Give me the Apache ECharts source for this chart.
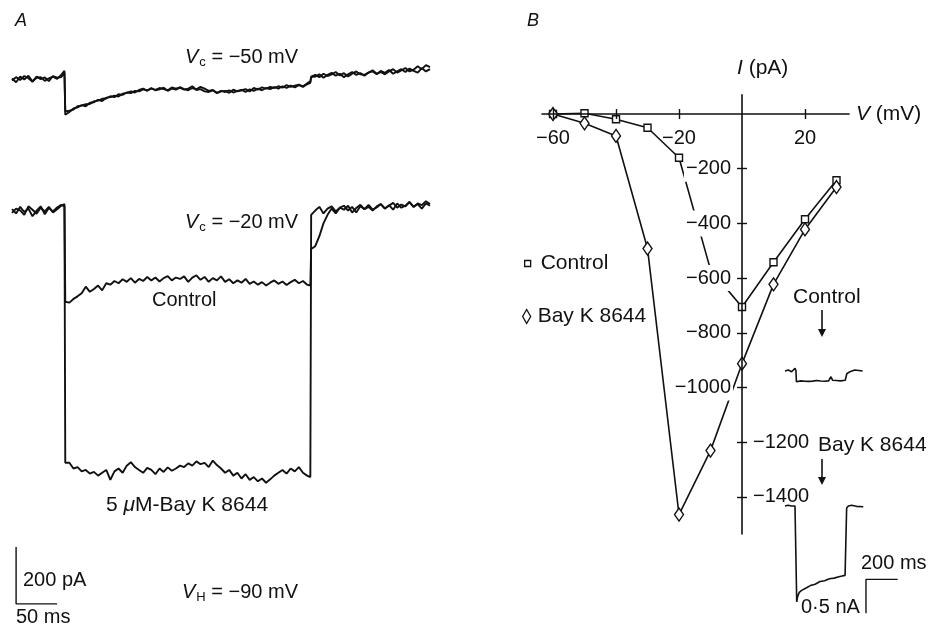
<!DOCTYPE html>
<html>
<head>
<meta charset="utf-8">
<script src="https://cdn.jsdelivr.net/npm/echarts@6/dist/echarts.min.js"></script>
<style>
html, body { margin: 0; background: #fff; }
#chart { width: 933px; height: 626px; }
</style>
</head>
<body>
<div id="chart"></div>
<script>
const FONT = '"Liberation Sans", Arial, Helvetica, sans-serif'
const INK = '#111'

// ---- panel A : current traces, sample times in ms, currents in pA
const tA = [0,5,10,15,20,25,30,35,40,45,50,55,60,64,65,
  70,75,80,85,90,95,100,105,110,115,120,125,130,135,140,145,150,155,160,165,170,175,180,185,190,195,
  200,205,210,215,220,225,230,235,240,245,250,255,260,265,270,275,280,285,290,295,300,305,310,315,320,
  325,330,335,340,345,350,355,360,364,365,
  370,375,380,385,390,395,400,405,410,415,420,425,430,435,440,445,450,455,460,465,470,475,480,485,490,495,500,505,510]

// Vc = -50 mV (two sweeps)
const i50a = [5,-8,12,2,15,-5,8,10,-3,6,12,4,18,32,-122,
  -112,-100,-96,-88,-92,-80,-78,-70,-74,-62,-60,-55,-58,-48,-45,-40,-44,-35,-30,-38,-28,-36,-33,-27,-38,-30,
  -34,-25,-32,-36,-28,-33,-24,-30,-38,-35,-45,-38,-42,-36,-44,-38,-35,-42,-33,-38,-30,-36,-28,-32,-25,
  -30,-22,-28,-20,-26,-18,-24,-15,-10,10,
  12,20,8,18,25,15,22,10,20,28,18,24,15,26,30,20,32,25,35,22,30,38,28,40,32,26,42,30,38]
const i50b = [-2,10,0,14,6,-6,12,3,9,-4,14,8,10,25,-110,
  -108,-104,-92,-90,-85,-84,-75,-72,-66,-65,-57,-60,-50,-52,-44,-46,-38,-40,-33,-36,-30,-35,-28,-32,-36,-26,
  -30,-28,-34,-30,-22,-35,-32,-40,-42,-36,-46,-40,-38,-45,-34,-40,-36,-32,-40,-28,-34,-26,-30,-24,-28,
  -22,-27,-18,-24,-20,-16,-22,-12,-5,12,
  18,10,22,14,20,28,16,24,12,22,30,20,18,26,34,22,28,20,30,38,26,34,42,30,36,48,38,52,45]

// Vc = -20 mV, control and 5 uM Bay K 8644
const i20ctrl = [-3,12,6,-10,20,8,-6,15,2,18,-2,10,22,28,-315,
  -318,-305,-296,-285,-262,-280,-270,-258,-275,-250,-255,-242,-250,-236,-245,-232,-248,-235,-242,-228,-240,-230,
  -244,-232,-225,-240,-230,-235,-226,-245,-230,-222,-238,-228,-245,-232,-240,-226,-245,-236,-250,-240,-248,-235,
  -252,-244,-255,-246,-258,-248,-240,-252,-244,-256,-246,-238,-250,-242,-255,-258,-130,
  -120,-85,-40,-10,12,-5,15,22,5,18,-2,20,10,25,8,16,28,12,22,32,15,26,20,35,18,30,24,38,28]
const i20bay = [10,-5,18,0,12,-15,5,20,-8,14,2,16,25,20,-880,
  -880,-900,-895,-910,-905,-918,-912,-925,-915,-905,-940,-910,-900,-915,-890,-878,-895,-905,-915,-898,-905,-920,
  -900,-912,-896,-908,-900,-890,-895,-882,-890,-875,-885,-880,-895,-872,-888,-900,-915,-905,-925,-915,-935,-920,
  -940,-930,-945,-935,-950,-938,-925,-915,-905,-918,-900,-910,-895,-915,-925,-930,-10,
  5,18,-5,12,20,2,15,8,22,-2,14,25,10,18,5,20,28,12,24,8,30,15,22,35,18,28,12,30,22]

// scale bar 50 ms / 200 pA
const barAT = [5, 5, 55]
const barAI = [-1175, -1375, -1375]

// ---- panel B : I-V relation
const vB = [-60, -50, -40, -30, -20, -10, 0, 10, 20, 30]
const iCtrl = [0, 3, -19, -50, -160, -569, -706, -542, -385, -242]
const iBay = [0, -34, -80, -492, -1465, -1231, -913, -623, -422, -267]
const xTicks = [-60, -40, -20, 20]
const xLabels = [-60, -20, 20]
const yTicks = [-200, -400, -600, -800, -1000, -1200, -1400]
const yLabelsLeft = [-200, -400, -600, -800, -1000]
const yLabelsRight = [-1200, -1400]

// inset traces (ms, nA)
const tInCtrl = [0, 21, 42, 63, 69, 72, 100, 125, 150, 175, 200, 225, 250, 275, 290, 300, 325, 350, 380, 390, 410, 440, 490]
const iInCtrl = [0.01, 0.025, 0, 0.05, 0.02, -0.147, -0.135, -0.14, -0.142, -0.138, -0.13, -0.136, -0.14, -0.135, -0.074, -0.125, -0.13, -0.135, -0.125, -0.03, 0, 0.025, 0.01]
const tInBay = [0, 20, 40, 63, 74, 80, 90, 105, 130, 160, 190, 221, 250, 280, 310, 340, 360, 379, 389, 400, 420, 450, 494]
const iInBay = [0, 0.01, 0, 0, -1.41, -1.33, -1.27, -1.24, -1.21, -1.17, -1.15, -1.11, -1.1, -1.07, -1.06, -1.04, -1.03, -1.02, -0.03, 0, 0.01, -0.005, -0.01]
// scale bar 200 ms / 0.5 nA
const barInT = [711, 511, 511]
const barInI = [-1.078, -1.078, -1.578]

const pairs = (xs, ys) => xs.map((x, k) => [x, ys[k]])
const minus = v => String(v).replace('-', '\u2212')

const chart = echarts.init(document.getElementById('chart'), null, { renderer: 'canvas' })

const hidden = (min, max, gridIndex) => ({ type: 'value', gridIndex, min, max, show: false })

const trace = (name, data, axis, width) => ({
  name, type: 'line', data, xAxisIndex: axis, yAxisIndex: axis,
  showSymbol: false, symbol: 'none', silent: true,
  lineStyle: { color: INK, width: width || 1.9 }
})

const label = (x, y, text, size, italic) => ({
  type: 'text', x, y, silent: true,
  style: {
    text, fill: INK, fontFamily: FONT, fontSize: size || 20,
    fontStyle: italic ? 'italic' : 'normal',
    verticalAlign: 'middle', align: 'left',
    rich: {
      i: { fontStyle: 'italic', fontFamily: FONT, fontSize: size || 20 },
      s: { fontFamily: FONT, fontSize: 13, padding: [10, 0, 0, 1] }
    }
  }
})

const arrow = (x, y0, y1) => ({
  type: 'group', silent: true,
  children: [
    { type: 'line', shape: { x1: x, y1: y0, x2: x, y2: y1 - 6 }, style: { stroke: INK, lineWidth: 1.6 } },
    { type: 'polygon', shape: { points: [[x - 4, y1 - 8], [x + 4, y1 - 8], [x, y1]] }, style: { fill: INK } }
  ]
})

// B plot area: V from -63.5 to 34 mV, I from -1536 to 70 pA.
// All four axes are shifted onto the zero lines, so ticks cross them.
const B = { left: 542, top: 94.9, width: 307.1, height: 439.1, vMin: -63.5, vMax: 34, iMin: -1536, iMax: 70 }
const zeroFromTop = B.iMax / (B.iMax - B.iMin) * B.height
const zeroFromLeft = -B.vMin / (B.vMax - B.vMin) * B.width

const tickStyle = { color: INK, width: 1.4 }
const labelFont = { color: INK, fontFamily: FONT, fontSize: 20 }
const lineStyleB = { color: INK, width: 1.6 }

const xAxisB = (position, offset, showLine, labels) => ({
  type: 'value', gridIndex: 2, min: B.vMin, max: B.vMax, position, offset, z: 5,
  axisLine: { show: showLine, onZero: false, lineStyle: lineStyleB },
  axisTick: { length: 5, customValues: xTicks, lineStyle: tickStyle },
  axisLabel: labels
    ? Object.assign({ customValues: labels, formatter: minus, margin: 14 }, labelFont)
    : { show: false },
  splitLine: { show: false }
})

// labels left of the I axis get a white box: the curves break behind them
const yAxisB = (position, offset, showLine, labels, boxed) => ({
  type: 'value', gridIndex: 2, min: B.iMin, max: B.iMax, position, offset, z: 5,
  axisLine: { show: showLine, onZero: false, lineStyle: lineStyleB },
  axisTick: { length: 5, customValues: yTicks, lineStyle: tickStyle },
  axisLabel: Object.assign({
    customValues: labels, formatter: minus, margin: boxed ? 9 : 11,
    backgroundColor: boxed ? '#fff' : 'transparent', padding: boxed ? [3, 2, 3, 2] : 0
  }, labelFont),
  splitLine: { show: false }
})

const marks = (name, data, symbol, size) => ({
  name, type: 'scatter', xAxisIndex: 2, yAxisIndex: 2, data, symbol, symbolSize: size, z: 4,
  itemStyle: { color: '#fff', borderColor: INK, borderWidth: 1.4, opacity: 1 }
})

const option = {
  animation: false,
  backgroundColor: '#fff',
  textStyle: { fontFamily: FONT },
  grid: [
    { left: 12, top: 40.1, width: 418, height: 91.2 },
    { left: 12, top: 180.65, width: 418, height: 430.35 },
    { left: B.left, top: B.top, width: B.width, height: B.height },
    { left: 785, top: 358.1, width: 114.1, height: 34 },
    { left: 785, top: 499.2, width: 114.1, height: 117 }
  ],
  xAxis: [
    hidden(0, 510, 0),
    hidden(0, 510, 1),
    xAxisB('bottom', -(B.height - zeroFromTop), true, xLabels),
    xAxisB('top', -zeroFromTop, false, null),
    hidden(0, 720, 3),
    hidden(0, 720, 4)
  ],
  yAxis: [
    hidden(-180, 140, 0),
    hidden(-1400, 110, 1),
    yAxisB('left', -zeroFromLeft, true, yLabelsLeft, true),
    yAxisB('right', -(B.width - zeroFromLeft), false, yLabelsRight, false),
    hidden(-0.3, 0.2, 3),
    hidden(-1.62, 0.1, 4)
  ],
  legend: [
    {
      data: [{ name: 'Control', icon: 'rect' }],
      left: 519, top: 248, itemWidth: 6, itemHeight: 6, selectedMode: false,
      itemStyle: { color: '#fff', borderColor: INK, borderWidth: 1.3 },
      textStyle: { color: INK, fontFamily: FONT, fontSize: 21, padding: [0, 0, 0, 5] }
    },
    {
      data: [{ name: 'Bay K 8644', icon: 'diamond' }],
      left: 517, top: 301, itemWidth: 8, itemHeight: 14, selectedMode: false,
      itemStyle: { color: '#fff', borderColor: INK, borderWidth: 1.3 },
      textStyle: { color: INK, fontFamily: FONT, fontSize: 21, padding: [0, 0, 0, 2] }
    }
  ],
  series: [
    trace('a50', pairs(tA, i50a), 0),
    trace('b50', pairs(tA, i50b), 0),
    trace('ctrl20', pairs(tA, i20ctrl), 1),
    trace('bay20', pairs(tA, i20bay), 1),
    trace('barA', pairs(barAT, barAI), 1, 1.4),
    trace('ctrlLine', pairs(vB, iCtrl), 2, 1.6),
    trace('bayLine', pairs(vB, iBay), 2, 1.6),
    marks('Control', pairs(vB, iCtrl), 'rect', 7),
    marks('Bay K 8644', pairs(vB, iBay), 'diamond', [9, 13]),
    trace('inCtrl', pairs(tInCtrl, iInCtrl), 4, 1.6),
    trace('inBay', pairs(tInBay, iInBay), 5, 1.6),
    trace('barIn', pairs(barInT, barInI), 5, 1.4)
  ],
  graphic: [
    label(15, 21, 'A', 18, true),
    label(527, 21, 'B', 18, true),
    label(185, 57, '{i|V}{s|c} = \u221250 mV'),
    label(185, 222, '{i|V}{s|c} = \u221220 mV'),
    label(152, 300, 'Control'),
    label(106, 505, '5 {i|\u03bc}M-Bay K 8644', 21),
    label(23, 580, '200 pA'),
    label(16, 617, '50 ms'),
    label(182, 592, '{i|V}{s|H} = \u221290 mV'),
    label(737, 68, '{i|I} (pA)', 21),
    label(856, 114, '{i|V} (mV)', 21),
    label(793, 297, 'Control', 21),
    label(818, 445, 'Bay K 8644', 21),
    label(861, 563, '200 ms', 20),
    label(801, 607, '0\u00b75 nA', 20),
    arrow(822, 310, 337),
    arrow(822, 459, 485)
  ]
}

chart.setOption(option)
</script>
</body>
</html>
